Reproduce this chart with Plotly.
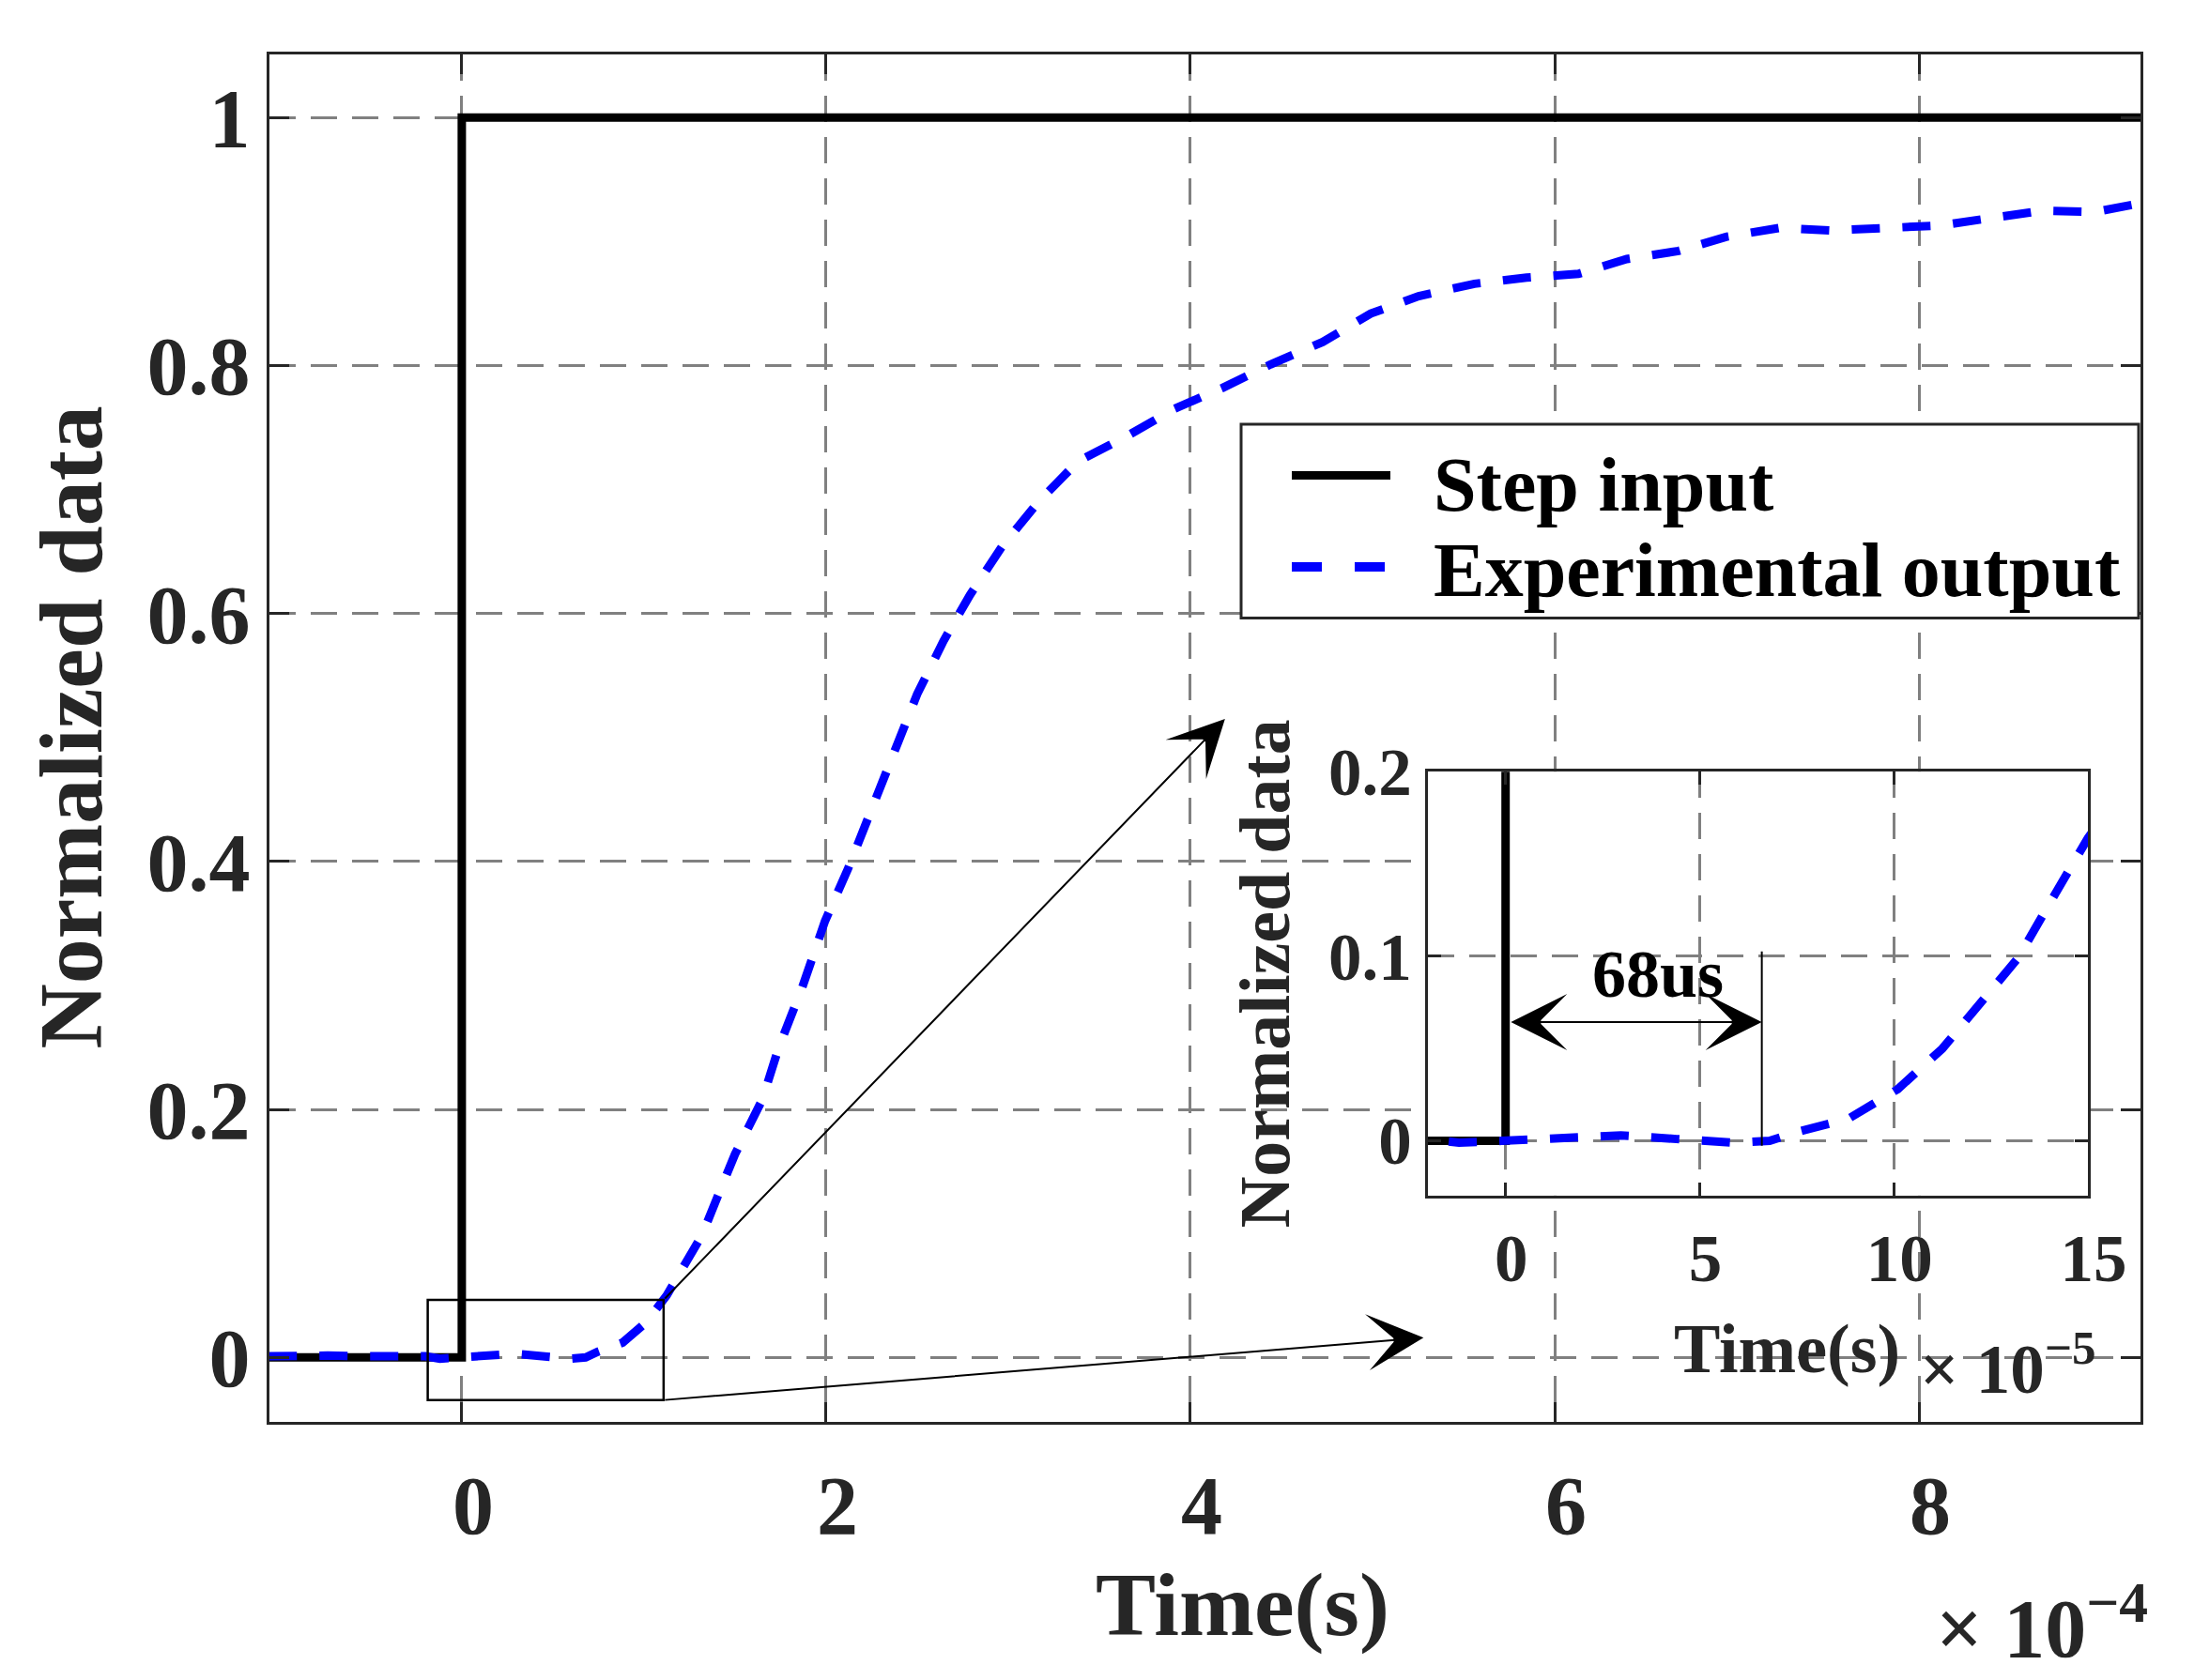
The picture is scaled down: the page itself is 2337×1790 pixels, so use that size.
import plotly.graph_objects as go

# time in units of 1e-4 s, normalised experimental output
time_e4 = [-1.06, -0.9, -0.736, -0.6, -0.43, -0.3, -0.2, -0.12, -0.01, 0.144, 0.297,
           0.441, 0.594, 0.68, 0.747, 0.883, 1.01, 1.125, 1.23, 1.32, 1.405, 1.5,
           1.65, 1.74, 1.868, 1.994, 2.12, 2.247, 2.374, 2.5, 2.645, 2.79, 2.97,
           3.165, 3.385, 3.65, 3.91, 4.176, 4.44, 4.726, 4.99, 5.253, 5.56, 5.846,
           6.13, 6.396, 6.68, 6.945, 7.23, 7.517, 7.82, 8.11, 8.395, 8.68, 8.967, 9.22]
output = [0.001, 0.002, 0.0015, 0.001, 0.0015, 0.0005, 0.001, -0.001, 0.0, 0.001, 0.003,
          0.001, -0.001, 0.0, 0.0046, 0.012, 0.028, 0.05, 0.077, 0.099, 0.13, 0.164,
          0.208, 0.25, 0.298, 0.352, 0.394, 0.442, 0.49, 0.535, 0.578, 0.615, 0.655,
          0.69, 0.723, 0.743, 0.765, 0.782, 0.801, 0.819, 0.842, 0.856, 0.866, 0.871,
          0.874, 0.886, 0.8925, 0.904, 0.911, 0.909, 0.911, 0.913, 0.919, 0.925, 0.924, 0.931]

step_time_e4 = [-1.06, 0.0, 0.0, 9.22]
step_value = [0, 0, 1, 1]

main_xticks = [0, 2, 4, 6, 8]
main_yticks = [0, 0.2, 0.4, 0.6, 0.8, 1]
main_ytext = ["0", "0.2", "0.4", "0.6", "0.8", "1"]
inset_xticks = [0, 5, 10, 15]
inset_yticks = [0, 0.1, 0.2]
inset_ytext = ["0", "0.1", "0.2"]

# zoomed region and where the arrows point (main axes units)
box_x = [-0.187, 1.108]
box_y = [-0.0344, 0.0464]
arrow_tips = [(4.19, 0.515), (5.28, 0.016)]
delay_end_e5 = 6.6
delay_label = "68us"

FONT = "Liberation Serif"
INK = "#262626"
W, H = 2337, 1790
L, R, T, B = 279, 2272, 39, 1507


def px(x):
    return (x - L) / (R - L)


def py(y):
    return (B - y) / (B - T)


def font(size, color=INK):
    return dict(family=FONT, size=size, color=color, weight="bold")


fig = go.Figure()

fig.add_trace(go.Scatter(x=step_time_e4, y=step_value, mode="lines",
                         line=dict(color="black", width=9), name="Step input",
                         xaxis="x", yaxis="y", showlegend=False))
fig.add_trace(go.Scatter(x=time_e4, y=output, mode="lines",
                         line=dict(color="#0000FF", width=9, dash="30px,24px"),
                         name="Experimental output", xaxis="x", yaxis="y", showlegend=False))

# inset uses 1e-5 s units
fig.add_trace(go.Scatter(x=[t * 10 for t in step_time_e4], y=step_value, mode="lines",
                         line=dict(color="black", width=9), xaxis="x2", yaxis="y2",
                         showlegend=False))
fig.add_trace(go.Scatter(x=[t * 10 for t in time_e4], y=output, mode="lines",
                         line=dict(color="#0000FF", width=9, dash="30px,24px"),
                         xaxis="x2", yaxis="y2", showlegend=False))

axis_style = dict(showgrid=True, gridcolor="#808080", griddash="28px,16px", gridwidth=3,
                  zeroline=False, showline=True, linecolor=INK, linewidth=3,
                  mirror="ticks", ticks="inside", tickwidth=3, tickcolor=INK)

fig.update_layout(
    width=W, height=H,
    margin=dict(l=L, r=W - R, t=T, b=H - B),
    paper_bgcolor="white", plot_bgcolor="white",
    xaxis=dict(domain=[0, 1], range=[-1.056, 9.216], tickvals=main_xticks,
               ticklen=21, tickfont=font(88), ticklabelstandoff=10, ticklabelshift=12,
               **axis_style),
    yaxis=dict(domain=[0, 1], range=[-0.052, 1.051], tickvals=main_yticks,
               ticktext=main_ytext, ticklen=21, tickfont=font(88), **axis_style),
    xaxis2=dict(domain=[px(1513), px(2216)], anchor="y2", range=[-2, 15],
                tickvals=inset_xticks, ticklen=14, tickfont=font(71),
                ticklabelstandoff=3, ticklabelshift=6, **axis_style),
    yaxis2=dict(domain=[py(1264), py(809)], anchor="x2", range=[-0.0296, 0.2],
                tickvals=inset_yticks, ticktext=inset_ytext, ticklen=14,
                tickfont=font(71), **axis_style),
)

shapes = [
    dict(type="rect", xref="x", yref="y", x0=box_x[0], x1=box_x[1], y0=box_y[0], y1=box_y[1],
         line=dict(color="black", width=2.5)),
    dict(type="line", xref="x2", yref="y2", x0=delay_end_e5, x1=delay_end_e5,
         y0=-0.0026, y1=0.1026, line=dict(color="black", width=2)),
    # legend
    dict(type="rect", xref="paper", yref="paper", x0=px(1314), x1=px(2270),
         y0=py(644), y1=py(436), fillcolor="white", line=dict(color=INK, width=3)),
    dict(type="line", xref="paper", yref="paper", x0=px(1368), x1=px(1473),
         y0=py(491), y1=py(491), line=dict(color="black", width=9)),
    dict(type="line", xref="paper", yref="paper", x0=px(1368), x1=px(1467),
         y0=py(589), y1=py(589), line=dict(color="#0000FF", width=10, dash="32px,35px")),
]
fig.update_layout(shapes=shapes)

ann = [
    dict(text="Time(s)", x=px(1315), y=py(1703), xref="paper", yref="paper",
         showarrow=False, font=font(96), xanchor="center", yanchor="middle"),
    dict(text="Normalized data", x=px(68), y=py(762), xref="paper", yref="paper",
         showarrow=False, font=font(96), textangle=-90, xanchor="center", yanchor="middle"),
    dict(text="× 10<sup>−4</sup>", x=px(2052), y=py(1722), xref="paper", yref="paper",
         showarrow=False, font=font(88), xanchor="left", yanchor="middle"),
    dict(text="Time(s)", x=px(1895), y=py(1428), xref="paper", yref="paper",
         showarrow=False, font=font(74), xanchor="center", yanchor="middle"),
    dict(text="Normalized data", x=px(1339), y=py(1026), xref="paper", yref="paper",
         showarrow=False, font=font(76), textangle=-90, xanchor="center", yanchor="middle"),
    dict(text="× 10<sup>−5</sup>", x=px(2035), y=py(1445), xref="paper", yref="paper",
         showarrow=False, font=font(73), xanchor="left", yanchor="middle"),
    dict(text=delay_label, x=3.93, y=0.0905, xref="x2", yref="y2",
         showarrow=False, font=font(72, "black"), xanchor="center", yanchor="middle"),
    dict(text="", x=delay_end_e5, y=0.0644, ax=0.1, ay=0.0644, xref="x2", yref="y2",
         axref="x2", ayref="y2", showarrow=True, arrowhead=3, startarrowhead=3,
         arrowside="end+start", arrowsize=5, startarrowsize=5, arrowwidth=2,
         arrowcolor="black", standoff=0, startstandoff=0),
    dict(text="Step input", x=px(1517), y=py(501), xref="paper", yref="paper",
         showarrow=False, font=font(82, "black"), xanchor="left", yanchor="middle"),
    dict(text="Experimental output", x=px(1517), y=py(593), xref="paper", yref="paper",
         showarrow=False, font=font(82, "black"), xanchor="left", yanchor="middle"),
]
for tip, corner_y in zip(arrow_tips, [box_y[1], box_y[0]]):
    ann.append(dict(text="", x=tip[0], y=tip[1], ax=box_x[1], ay=corner_y,
                    xref="x", yref="y", axref="x", ayref="y", showarrow=True,
                    arrowhead=3, arrowsize=5, arrowwidth=2, arrowcolor="black",
                    standoff=0))
fig.update_layout(annotations=ann)

fig.write_html("out.html")
